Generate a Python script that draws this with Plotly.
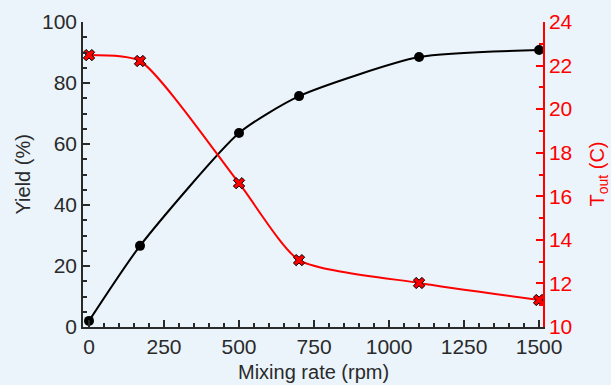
import plotly.graph_objects as go

mixing_rate = [0, 170, 500, 700, 1100, 1500]
yield_pct = [2.0, 26.6, 63.6, 75.7, 88.5, 90.8]
t_out = [22.48, 22.21, 16.6, 13.07, 12.02, 11.24]

x_ticks = [0, 250, 500, 750, 1000, 1250, 1500]
y_ticks = [0, 20, 40, 60, 80, 100]
y2_ticks = [10, 12, 14, 16, 18, 20, 22, 24]

x_title = "Mixing rate (rpm)"
y_title = "Yield (%)"
y2_title = "T<sub>out</sub> (C)"

font = "Liberation Sans, Arial, sans-serif"
txt = "#2a2a2a"

fig = go.Figure()
fig.add_trace(go.Scatter(
    x=mixing_rate, y=yield_pct, mode="lines+markers",
    line=dict(color="black", width=2, shape="spline", smoothing=0.6),
    marker=dict(symbol="circle", size=10, color="black"),
    showlegend=False,
))
fig.add_trace(go.Scatter(
    x=mixing_rate, y=t_out, mode="lines+markers", yaxis="y2",
    line=dict(color="#ff0000", width=2, shape="spline", smoothing=0.6),
    marker=dict(symbol="x", size=10, color="#ff0000", line=dict(color="black", width=1)),
    showlegend=False,
))

fig.update_layout(
    width=611, height=385,
    margin=dict(l=83, r=68, t=22, b=58),
    paper_bgcolor="#eaf4fa",
    plot_bgcolor="rgba(0,0,0,0)",
    font=dict(family=font, size=20, color=txt),
    xaxis=dict(
        range=[-20, 1513], tickvals=x_ticks, ticks="inside", ticklen=7,
        tickcolor=txt, tickwidth=1.5, automargin=False,
        minor=dict(dtick=50, tick0=0, ticks="inside", ticklen=4, tickcolor=txt),
        showline=True, linecolor=txt, linewidth=1.5,
        showgrid=False, zeroline=False,
        tickfont=dict(size=21),
    ),
    yaxis=dict(
        range=[0, 100], tickvals=y_ticks, ticks="inside", ticklen=7,
        tickcolor=txt, tickwidth=1.5, automargin=False,
        minor=dict(dtick=5, tick0=0, ticks="inside", ticklen=4, tickcolor=txt),
        showline=True, linecolor=txt, linewidth=1.5,
        showgrid=False, zeroline=False,
        tickfont=dict(size=21),
    ),
    yaxis2=dict(
        range=[10, 24], tickvals=y2_ticks, overlaying="y", side="right",
        ticks="inside", ticklen=7, tickcolor="#ff0000", tickwidth=1.5, automargin=False,
        minor=dict(dtick=1, tick0=10, ticks="inside", ticklen=4, tickcolor="#ff0000"),
        showline=True, linecolor="#ff0000", linewidth=1.5,
        showgrid=False, zeroline=False,
        tickfont=dict(size=21, color="#ff0000"),
    ),
    annotations=[
        dict(text=x_title, xref="paper", yref="paper", x=0.5, y=0,
             xanchor="center", yanchor="middle", yshift=-45, showarrow=False,
             font=dict(size=20, color=txt)),
        dict(text=y_title, xref="paper", yref="paper", x=0, y=0.5,
             xanchor="center", yanchor="middle", xshift=-61, textangle=-90, showarrow=False,
             font=dict(size=20, color=txt)),
        dict(text=y2_title, xref="paper", yref="paper", x=1, y=0.5,
             xanchor="center", yanchor="middle", xshift=55, textangle=-90, showarrow=False,
             font=dict(size=20, color="#ff0000")),
    ],
)

fig.write_html(
    "out.html",
    config={"displayModeBar": False},
    post_script="document.body.style.margin='0';document.body.style.padding='0';document.body.style.overflow='hidden';",
)
